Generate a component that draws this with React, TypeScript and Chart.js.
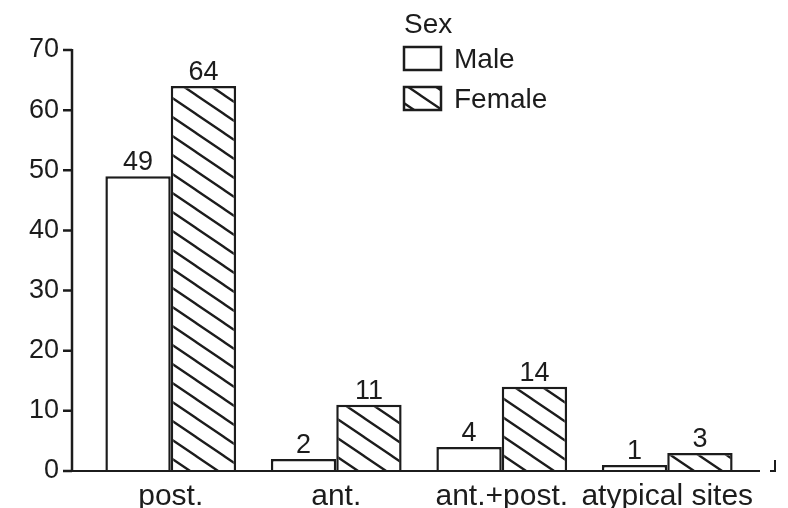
import React, { useEffect, useRef } from "react";
import { Chart, registerables } from "chart.js";

Chart.register(...registerables);

const categories = ["post.", "ant.", "ant.+post.", "atypical sites"];
const maleValues = [49, 2, 4, 1];
const femaleValues = [64, 11, 14, 3];
const yMin = 0;
const yMax = 70;
const yStep = 10;
const legendTitle = "Sex";
const seriesNames = ["Male", "Female"];

const FONT = '"Liberation Sans", Arial, Helvetica, sans-serif';
const INK = "#1c1c1c";

function makeHatch(): CanvasPattern | string {
  const w = 28;
  const h = 19;
  const c = document.createElement("canvas");
  c.width = w;
  c.height = h;
  const g = c.getContext("2d");
  if (!g) return "#888";
  g.fillStyle = "#ffffff";
  g.fillRect(0, 0, w, h);
  g.strokeStyle = INK;
  g.lineWidth = 2.3;
  g.beginPath();
  for (const k of [-1, 0, 1]) {
    g.moveTo(k * w - w, -h);
    g.lineTo(k * w + 2 * w, 2 * h);
  }
  g.stroke();
  return g.createPattern(c, "repeat") || "#888";
}

export default function App() {
  const ref = useRef<HTMLCanvasElement | null>(null);

  useEffect(() => {
    document.body.style.margin = "0";
    const canvas = ref.current;
    if (!canvas) return;
    const hatch = makeHatch();

    const decor = {
      id: "decor",
      afterDatasetsDraw(chart: any) {
        const ctx: CanvasRenderingContext2D = chart.ctx;
        const ys = chart.scales.y;
        const area = chart.chartArea;
        const y0 = ys.getPixelForValue(yMin);
        const yTop = ys.getPixelForValue(yMax);
        const axisX = area.left - 16;
        ctx.save();
        ctx.strokeStyle = INK;
        ctx.lineWidth = 2.5;
        ctx.lineCap = "butt";
        ctx.beginPath();
        ctx.moveTo(axisX, yTop - 1);
        ctx.lineTo(axisX, y0);
        ys.ticks.forEach((t: any) => {
          const py = ys.getPixelForValue(t.value);
          ctx.moveTo(axisX - 9, py);
          ctx.lineTo(axisX, py);
        });
        ctx.stroke();
        // baseline
        ctx.lineWidth = 2;
        ctx.beginPath();
        ctx.moveTo(axisX - 9, y0);
        ctx.lineTo(area.right + 10, y0);
        ctx.stroke();
        // end mark
        ctx.lineWidth = 2;
        ctx.beginPath();
        ctx.moveTo(area.right + 25, y0 - 11);
        ctx.lineTo(area.right + 25, y0);
        ctx.lineTo(area.right + 20, y0);
        ctx.stroke();

        // value labels
        ctx.fillStyle = INK;
        ctx.font = `27px ${FONT}`;
        ctx.textAlign = "center";
        ctx.textBaseline = "alphabetic";
        chart.data.datasets.forEach((ds: any, di: number) => {
          const meta = chart.getDatasetMeta(di);
          meta.data.forEach((el: any, i: number) => {
            ctx.fillText(String(ds.data[i]), el.x, el.y - 6);
          });
        });

        // legend
        ctx.textAlign = "left";
        ctx.font = `28px ${FONT}`;
        ctx.fillText(legendTitle, 404, 33);
        const boxX = 404;
        const boxW = 37;
        const boxH = 23;
        const rows = [47, 87];
        seriesNames.forEach((name, i) => {
          const by = rows[i];
          ctx.fillStyle = i === 0 ? "#ffffff" : (hatch as any);
          ctx.fillRect(boxX, by, boxW, boxH);
          ctx.lineWidth = 2.5;
          ctx.strokeStyle = INK;
          ctx.strokeRect(boxX, by, boxW, boxH);
          ctx.fillStyle = INK;
          ctx.fillText(name, 454, by + 21);
        });
        ctx.restore();
      },
    };

    const chart = new Chart(canvas, {
      type: "bar",
      data: {
        labels: categories,
        datasets: [
          {
            label: seriesNames[0],
            data: maleValues,
            backgroundColor: "#ffffff",
            borderColor: INK,
            borderWidth: 2.5,
            borderSkipped: "bottom",
          },
          {
            label: seriesNames[1],
            data: femaleValues,
            backgroundColor: hatch as any,
            borderColor: INK,
            borderWidth: 2.5,
            borderSkipped: "bottom",
          },
        ],
      },
      options: {
        animation: false,
        responsive: false,
        devicePixelRatio: 1,
        layout: { padding: { left: 0, right: 38, top: 50, bottom: 0 } },
        datasets: {
          bar: { categoryPercentage: 0.79, barPercentage: 1.0 },
        },
        plugins: {
          legend: { display: false },
          tooltip: { enabled: false },
          title: { display: false },
        },
        scales: {
          x: {
            grid: { display: false, drawTicks: false },
            border: { display: false },
            ticks: {
              color: INK,
              font: { family: FONT, size: 30 },
              padding: 8,
              maxRotation: 0,
              autoSkip: false,
            },
            afterFit: (s: any) => {
              s.height = 37;
            },
          },
          y: {
            min: yMin,
            max: yMax,
            grid: { display: false, drawTicks: true, tickLength: 27 },
            border: { display: false },
            ticks: {
              stepSize: yStep,
              color: INK,
              font: { family: FONT, size: 27 },
              padding: 2,
            },
            afterFit: (s: any) => {
              s.width = 88;
            },
          },
        },
      },
      plugins: [decor],
    });
    return () => chart.destroy();
  }, []);

  return (
    <div style={{ width: 788, height: 508, background: "#fff" }}>
      <canvas ref={ref} width={788} height={508} style={{ display: "block", width: 788, height: 508 }} />
    </div>
  );
}
